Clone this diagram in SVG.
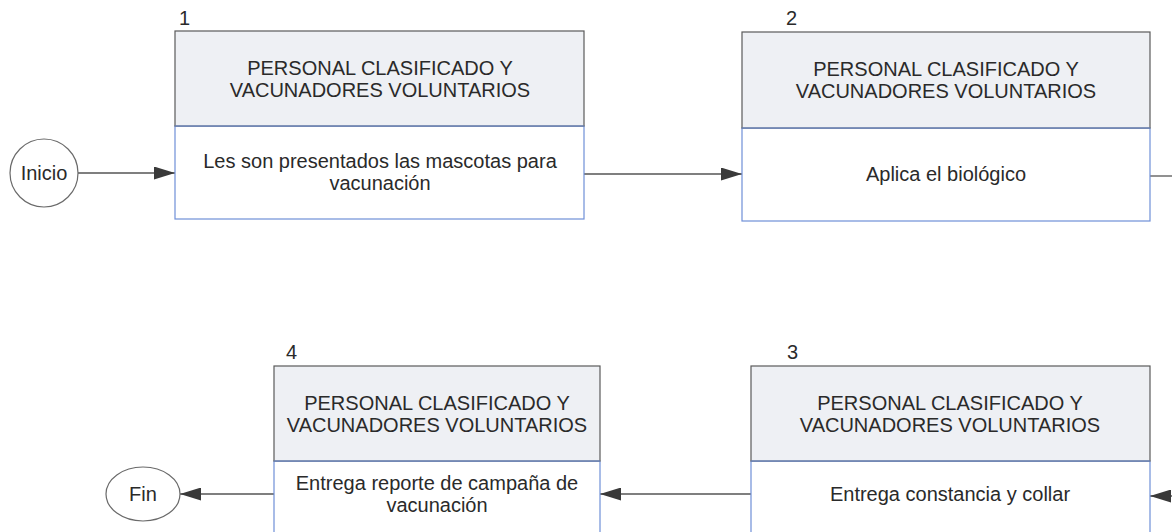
<svg xmlns="http://www.w3.org/2000/svg" width="1172" height="532" viewBox="0 0 1172 532">
<style>
text{font-family:"Liberation Sans",Arial,sans-serif;fill:#2a2a2a;font-size:20px}
.c{text-anchor:middle}
.hdr{fill:#eef0f4;stroke:#5a5a5a;stroke-width:1.2}
.body{fill:#ffffff;stroke:#6f8fd8;stroke-width:1.2}
.div{stroke:#6f8fd8;stroke-width:1.2}
.term{fill:#ffffff;stroke:#6a6a6a;stroke-width:1.2}
.conn{stroke:#555;stroke-width:1.3;fill:none}
</style>
<defs>
<marker id="ah" markerWidth="21" markerHeight="13" refX="21" refY="6.5" orient="auto" markerUnits="userSpaceOnUse">
<path d="M0,0 L21,6.5 L0,13 Z" fill="#3a3a3a"/>
</marker>
</defs>
<rect width="1172" height="532" fill="#ffffff"/>
<g id="connectors">
<line class="conn" x1="78" y1="173" x2="175" y2="173" marker-end="url(#ah)"/>
<line class="conn" x1="584" y1="174" x2="742" y2="174" marker-end="url(#ah)"/>
<line class="conn" x1="1150" y1="176" x2="1172" y2="176"/>
<line class="conn" x1="1190" y1="496" x2="1150" y2="496" marker-end="url(#ah)"/>
<line class="conn" x1="751" y1="494" x2="600" y2="494" marker-end="url(#ah)"/>
<line class="conn" x1="274" y1="494" x2="180" y2="494" marker-end="url(#ah)"/>
</g>
<g id="inicio">
<ellipse class="term" cx="44" cy="173" rx="34" ry="34"/>
<text class="c" x="44" y="180">Inicio</text>
</g>
<g id="fin">
<ellipse class="term" cx="143" cy="494" rx="37" ry="27"/>
<text class="c" x="143" y="501">Fin</text>
</g>
<g id="step1">
<text x="179" y="25">1</text>
<rect class="body" x="175" y="126" width="409" height="93"/>
<rect class="hdr" x="175" y="31" width="409" height="95"/>
<line class="div" x1="175" y1="126" x2="584" y2="126"/>
<text class="c" x="380" y="75">PERSONAL CLASIFICADO Y</text>
<text class="c" x="380" y="97">VACUNADORES VOLUNTARIOS</text>
<text class="c" x="380" y="168">Les son presentados las mascotas para</text>
<text class="c" x="380" y="190">vacunación</text>
</g>
<g id="step2">
<text x="786" y="25">2</text>
<rect class="body" x="742" y="128" width="408" height="93"/>
<rect class="hdr" x="742" y="32" width="408" height="96"/>
<line class="div" x1="742" y1="128" x2="1150" y2="128"/>
<text class="c" x="946" y="76">PERSONAL CLASIFICADO Y</text>
<text class="c" x="946" y="98">VACUNADORES VOLUNTARIOS</text>
<text class="c" x="946" y="181">Aplica el biológico</text>
</g>
<g id="step3">
<text x="787" y="359">3</text>
<rect class="body" x="751" y="461" width="399" height="90"/>
<rect class="hdr" x="751" y="366" width="399" height="95"/>
<line class="div" x1="751" y1="461" x2="1150" y2="461"/>
<text class="c" x="950" y="410">PERSONAL CLASIFICADO Y</text>
<text class="c" x="950" y="432">VACUNADORES VOLUNTARIOS</text>
<text class="c" x="950" y="501">Entrega constancia y collar</text>
</g>
<g id="step4">
<text x="286" y="359">4</text>
<rect class="body" x="274" y="461" width="326" height="90"/>
<rect class="hdr" x="274" y="366" width="326" height="95"/>
<line class="div" x1="274" y1="461" x2="600" y2="461"/>
<text class="c" x="437" y="410">PERSONAL CLASIFICADO Y</text>
<text class="c" x="437" y="432">VACUNADORES VOLUNTARIOS</text>
<text class="c" x="437" y="490">Entrega reporte de campaña de</text>
<text class="c" x="437" y="512">vacunación</text>
</g>
</svg>
